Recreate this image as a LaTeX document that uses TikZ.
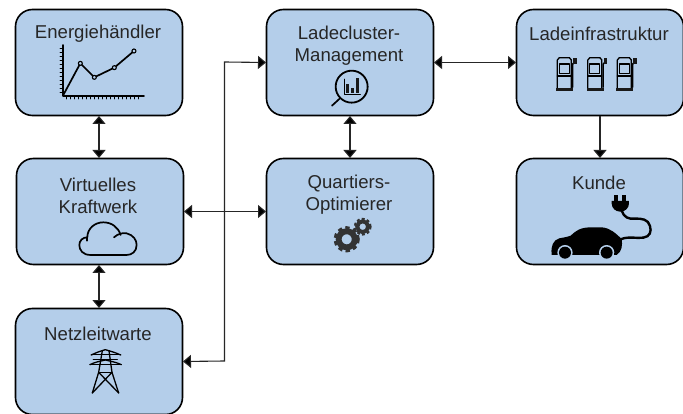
\documentclass[tikz,border=0pt]{standalone}
\usepackage{fontspec}
\setmainfont{Liberation Sans}
\usetikzlibrary{arrows.meta}
\tikzset{
  box/.style={draw=black,line width=1.6pt,fill=boxblue,rounded corners=17pt,minimum width=167pt,minimum height=106pt,inner sep=0pt,outer sep=0.5pt},
  lbl/.style={font=\fontsize{18.6}{22}\selectfont,text=black!85,align=center,inner sep=0pt},
  conn/.style={line width=1.1pt,draw=black!85,{Triangle[length=8pt,width=13pt,fill=black]}-{Triangle[length=8pt,width=13pt,fill=black]}},
  oneway/.style={line width=1.1pt,draw=black!85,-{Triangle[length=8pt,width=13pt,fill=black]}},
  ico/.style={line width=1.7pt,draw=black,line join=round,line cap=round},
  zoomed/.style={x=0.3333pt,y=-0.3333pt}
}
\definecolor{boxblue}{HTML}{B4CEEA}
\newcommand{\pumpicon}[1]{%
  \begin{scope}[shift={(#1,0)},zoomed]
    \draw[ico,line width=1.3pt] (172,268) -- (172,180) -- (178,173) -- (208,173) -- (214,180) -- (214,268);
    \draw[ico,line width=1.3pt] (178,192) rectangle (208,220);
    \draw[ico,line width=1.3pt] (172,228) -- (214,228);
    \fill[black!90] (168,263) rectangle (220,272);
    \draw[ico,line width=1.5pt] (218,262) -- (218,192) -- (226,185);
    \fill[black!90] (220,174) rectangle (230,192);
  \end{scope}}
\newcommand{\gearicon}[3]{%
  \draw[draw=black!80,line width=#3*0.45pt] (#1,#2) circle[radius=#3*0.62pt];
  \draw[draw=black!80,line width=#3*0.22pt,dash pattern=on #3*0.33pt off #3*0.26pt] (#1,#2) circle[radius=#3*0.9pt];}
\begin{document}
\begin{tikzpicture}[x=1pt,y=-1pt]
\useasboundingbox (0,0) rectangle (683,414);
\fill[white] (0,0) rectangle (683,414);
% boxes
\node[box,anchor=north west] (eh) at (15,9) {};
\node[box,anchor=north west] (vk) at (16,158) {};
\node[box,anchor=north west] (nl) at (15,308) {};
\node[box,anchor=north west] (lc) at (266,9) {};
\node[box,anchor=north west] (qo) at (266,158) {};
\node[box,anchor=north west] (li) at (516,9) {};
\node[box,anchor=north west] (ku) at (516,158) {};
% labels
\node[lbl] (teh) at (98,34) {Energiehändler};
\node[lbl] (tvk) at (98,195) [yshift=-0.5pt] {Virtuelles\\Kraftwerk};
\node[lbl] (tnl) at (98,334) {Netzleitwarte};
\node[lbl] (tlc) at (349,46) {Ladecluster-\\Management};
\node[lbl] (tqo) at (349,195) {Quartiers-\\Optimierer};
\node[lbl] (tli) at (599,34) {Ladeinfrastruktur};
\node[lbl] (tku) at (599,183) {Kunde};
% connectors
\draw[conn] (eh.south) -- (vk.north -| eh.south);
\draw[conn] (vk.south -| nl.north) -- (nl.north);
\draw[conn] (vk.east |- qo.west) -- (qo.west);
\draw[conn] (lc) ++(0,53.5) -- (qo.north);
\draw[conn] (lc.east) -- (li.west);
\draw[oneway] (li.south) -- (ku.north);
\coordinate (bend1) at (224.5,62);
\coordinate (bend2) at (224.5,361);
\draw[conn] (lc.west) -- (bend1) -- (bend2) -- (nl.east);
% chart
\begin{scope}[zoomed]
  \draw[ico] (190,135) -- (190,288) -- (432,288);
  \foreach \yy in {145,157,...,280} \draw[ico,line width=0.9pt] (180,\yy) -- (190,\yy);
  \foreach \xx in {200,212,...,420} \draw[ico,line width=0.9pt] (\xx,288) -- (\xx,297);
  \draw[ico] (190,285) -- (241,190) -- (283,232) -- (343,203) -- (402,153);
  \foreach \px/\py in {241/190,283/232,343/203,402/153}
    \draw[ico,fill=boxblue,line width=1.1pt] (\px,\py) circle[radius=6];
\end{scope}
% magnifier
\begin{scope}[shift={(250,0)},zoomed]
  \draw[ico,line width=1.8pt] (305,260) circle[radius=48];
  \draw[ico] (269,296) -- (246,317);
  \draw[ico,line width=1.3pt] (283,238) -- (283,284) -- (331,284);
  \fill[black!90] (288,252) rectangle (298,279);
  \fill[black!90] (303,264) rectangle (312,279);
  \fill[black!90] (317,234) rectangle (327,279);
\end{scope}
% pumps
\pumpicon{500}
\pumpicon{530.5}
\pumpicon{560}
% cloud
\begin{scope}[shift={(0,140)},zoomed]
  \draw[ico] (272,345) .. controls (248,345) and (238,330) .. (238,315)
    .. controls (238,302) and (248,292) .. (262,292)
    .. controls (262,265) and (285,247) .. (310,247)
    .. controls (335,247) and (355,262) .. (362,285);
  \draw[ico] (342,292) .. controls (355,280) and (370,278) .. (380,280)
    .. controls (400,285) and (410,300) .. (410,315)
    .. controls (410,335) and (395,345) .. (380,345) -- (272,345);
  \draw[ico] (262,292) -- (262,302);
\end{scope}
% gears
\gearicon{346.7}{239.3}{13}
\gearicon{362.7}{226.7}{8.8}
% pylon
\begin{scope}[shift={(0,274)},zoomed]
  \draw[ico,line width=1.3pt] (274,243) .. controls (290,235) and (300,232) .. (316,227) .. controls (332,232) and (345,235) .. (362,243);
  \draw[ico,line width=1.3pt] (274,241) -- (362,241);
  \draw[ico,line width=1.3pt] (270,272) .. controls (285,264) and (300,262) .. (316,258) .. controls (332,262) and (347,264) .. (364,272);
  \draw[ico,line width=1.3pt] (270,272) -- (364,272);
  \draw[ico,line width=1.3pt] (280,256) -- (352,256);
  \draw[ico,line width=1.3pt] (307,230) -- (296,295) -- (277,357);
  \draw[ico,line width=1.3pt] (327,230) -- (336,295) -- (356,357);
  \draw[ico,line width=1.3pt] (296,295) -- (356,357);
  \draw[ico,line width=1.3pt] (336,295) -- (277,357);
  \draw[ico,line width=1.3pt] (296,295) -- (336,295);
\end{scope}
% car and plug
\begin{scope}[shift={(500,140)},zoomed]
  \fill[black] (155,342) .. controls (152,318) and (160,300) .. (178,295)
    .. controls (195,292) and (205,290) .. (212,287)
    .. controls (228,272) and (240,263) .. (270,262)
    -- (305,262) .. controls (330,264) and (345,278) .. (365,297)
    .. controls (368,315) and (366,335) .. (350,345) -- (155,345) -- cycle;
  \fill[boxblue] (195,338) circle[radius=23];
  \fill[boxblue] (320,338) circle[radius=23];
  \fill[boxblue] (150,357) rectangle (370,345);
  \fill[black] (155,340) rectangle (172,345);
  \fill[black] (218,340) rectangle (297,345);
  \fill[black] (343,340) rectangle (352,345);
  \fill[black] (195,338) circle[radius=18];
  \fill[black] (320,338) circle[radius=18];
  \draw[line width=2.4pt,black] (362,298) .. controls (385,288) and (410,296) .. (430,293)
    .. controls (450,290) and (455,275) .. (450,258)
    .. controls (445,238) and (425,235) .. (405,236)
    .. controls (385,238) and (372,232) .. (365,212);
  \fill[black] (335,183) -- (387,183) -- (387,190) .. controls (387,205) and (375,215) .. (361,215) .. controls (347,215) and (335,205) .. (335,190) -- cycle;
  \fill[black] (343,164) rectangle (353,185);
  \fill[black] (367,164) rectangle (377,185);
\end{scope}
\end{tikzpicture}
\end{document}
